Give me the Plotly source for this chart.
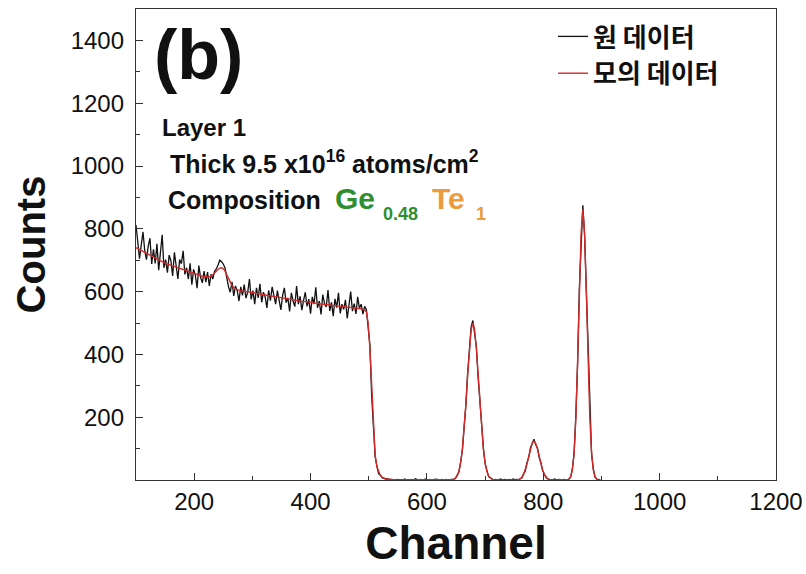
import plotly.graph_objects as go

# Channel grid (every 3rd channel from 100 to 898)
channels = list(range(100, 899, 3))

raw_counts = [
    812, 760, 705, 748, 790, 731, 702, 745, 770, 688,
    735, 690, 752, 668, 718, 781, 676, 702, 660, 716,
    698, 650, 725, 671, 640, 702, 689, 730, 655, 676,
    640, 690, 622, 671, 652, 611, 683, 645, 628, 665,
    630, 662, 618, 655, 640, 665, 672, 685, 700, 695,
    688, 675, 640, 615, 598, 631, 586, 618, 603, 570,
    615, 588, 622, 579, 598, 640, 575, 603, 560, 612,
    580, 625, 566, 598, 583, 548, 604, 571, 615, 590,
    560, 603, 574, 542, 588, 612, 565, 580, 537, 596,
    570, 552, 618, 560, 585, 541, 572, 598, 553, 576,
    530, 583, 560, 614, 548, 570, 527, 590, 562, 551,
    605, 538, 566, 522, 577, 549, 596, 531, 560, 543,
    574, 515, 556, 600, 538, 562, 529, 583, 547, 560,
    528, 553,
    542, 480, 430, 270, 170, 75, 45, 20, 16, 7,
    5, 3, 4, 1, 2, 0, 1, 0, 2, 0,
    1, 0, 3, 0, 1, 0, 2, 0, 4, 1,
    0, 2, 0, 1, 3, 0, 2, 0, 1, 0,
    3, 1, 0, 2, 0, 1, 2, 0, 1, 0,
    3, 5, 15, 25, 58, 95, 168, 238, 340, 410,
    488, 508, 470, 425, 328, 250, 158, 103, 52, 30,
    11, 7, 3, 0, 2, 0, 1, 3, 0, 2,
    1, 0, 2, 0, 3, 1, 2, 0, 4, 6,
    19, 28, 55, 72, 103, 114, 130, 112, 102, 71,
    54, 29, 18, 7, 4, 2, 0, 1, 3, 0,
    2, 1, 0, 2, 1, 0, 3, 9, 35, 84,
    205, 370, 610, 775, 875, 780, 605, 370, 205, 84,
    35, 9, 3, 1, 0,
]

# Simulated (fitted) counts
sim_counts = [
    740, 737, 733, 730, 727, 723, 720, 717, 714, 711,
    709, 706, 703, 700, 698, 695, 692, 690, 688, 685,
    683, 681, 679, 677, 675, 673, 671, 669, 667, 665,
    663, 661, 659, 657, 655, 654, 652, 651, 649, 648,
    647, 647, 647, 649, 653, 659, 665, 671, 675, 676,
    673, 665, 653, 640, 628, 619, 613, 609, 606, 604,
    603, 602, 601, 600, 599, 598, 597, 596, 595, 594,
    593, 592, 591, 590, 589, 588, 587, 586, 585, 584,
    583, 582, 581, 580, 579, 578, 577, 576, 575, 575,
    574, 573, 572, 571, 570, 569, 568, 568, 567, 566,
    565, 564, 564, 563, 562, 561, 561, 560, 559, 558,
    558, 557, 556, 556, 555, 554, 554, 553, 552, 552,
    551, 550, 550, 549, 548, 548, 547, 546, 546, 545,
    544, 542,
    535, 500, 420, 290, 160, 80, 42, 24, 14, 9,
    6, 4, 3, 2, 1, 1, 0, 0, 0, 0,
    0, 0, 0, 0, 0, 0, 0, 0, 0, 0,
    0, 0, 0, 0, 0, 0, 0, 0, 0, 0,
    0, 0, 0, 0, 0, 0, 0, 0, 0, 1,
    2, 6, 13, 28, 55, 99, 162, 243, 334, 418,
    478, 500, 478, 418, 334, 243, 162, 99, 55, 28,
    13, 6, 2, 1, 0, 0, 0, 0, 0, 0,
    0, 0, 0, 0, 0, 0, 0, 1, 3, 8,
    17, 31, 51, 75, 99, 117, 124, 117, 99, 75,
    51, 31, 17, 8, 3, 1, 0, 0, 0, 0,
    0, 0, 0, 0, 0, 0, 2, 10, 32, 87,
    198, 377, 597, 786, 862, 786, 597, 377, 198, 87,
    32, 10, 2, 0, 0,
]

series_names = ["원 데이터", "모의 데이터"]
x_tickvals = [200, 400, 600, 800, 1000, 1200]
y_tickvals = [200, 400, 600, 800, 1000, 1200, 1400]

FONT = "Liberation Sans, Arial, sans-serif"
KFONT = "Noto Sans CJK KR, sans-serif"

fig = go.Figure()
fig.add_trace(go.Scatter(x=channels, y=raw_counts, mode="lines", name="<b>" + series_names[0] + "</b>",
                         line=dict(color="#111111", width=1.3)))
fig.add_trace(go.Scatter(x=channels, y=sim_counts, mode="lines", name="<b>" + series_names[1] + "</b>",
                         line=dict(color="#d42a2a", width=1.4)))

W, H = 806, 574
L, R, T, B = 136, 30, 9, 94
pw, ph = W - L - R, H - T - B

def px(xp):
    return (xp - L) / pw

def py(yp):
    return (H - B - yp) / ph

axis_common = dict(showline=True, linecolor="#333333", linewidth=1.3, mirror=True,
                   showgrid=False, zeroline=False, ticks="inside", ticklen=7,
                   tickcolor="#333333", tickwidth=1.2, automargin=False,
                   tickfont=dict(family=FONT, size=24, color="#111111"))

fig.update_layout(
    width=W, height=H,
    margin=dict(l=L, r=R, t=T, b=B),
    paper_bgcolor="white", plot_bgcolor="white",
    showlegend=True,
    legend=dict(x=px(553), y=py(13), xanchor="left", yanchor="top",
                bgcolor="rgba(0,0,0,0)", font=dict(family=KFONT, size=26, color="#111111"),
                tracegroupgap=0, itemwidth=30),
    xaxis=dict(range=[100, 1200], tickvals=x_tickvals,
               minor=dict(tick0=0, dtick=100, ticks="inside", ticklen=4, tickcolor="#333333"),
               title=dict(text="<b>Channel</b>", font=dict(family=FONT, size=46, color="#111111"),
                          standoff=12),
               **axis_common),
    yaxis=dict(range=[0, 1500], tickvals=y_tickvals,
               minor=dict(tick0=0, dtick=100, ticks="inside", ticklen=4, tickcolor="#333333"),
               title=dict(text="<b>Counts</b>", font=dict(family=FONT, size=40, color="#111111"),
                          standoff=12),
               ticklabelstandoff=6,
               **axis_common),
)

ann = []
ann.append(dict(text="<b>(b)</b>", x=px(152), y=py(55), xanchor="left", yanchor="middle",
                font=dict(family=FONT, size=70, color="#111111")))
ann.append(dict(text="<b>Layer 1</b>", x=px(160), y=py(127), xanchor="left", yanchor="middle",
                font=dict(family=FONT, size=24, color="#111111")))
ann.append(dict(text="<b>Thick 9.5 x10<sup>16</sup> atoms/cm<sup>2</sup></b>", x=px(168), y=py(162),
                xanchor="left", yanchor="middle",
                font=dict(family=FONT, size=25, color="#111111")))
ann.append(dict(text="<b>Composition</b>", x=px(166), y=py(200), xanchor="left", yanchor="middle",
                font=dict(family=FONT, size=25, color="#111111")))
ann.append(dict(text="<b>Ge</b>", x=px(333), y=py(198), xanchor="left", yanchor="middle",
                font=dict(family=FONT, size=30, color="#2f8f2f")))
ann.append(dict(text="<b>0.48</b>", x=px(381), y=py(214), xanchor="left", yanchor="middle",
                font=dict(family=FONT, size=18, color="#2f8f2f")))
ann.append(dict(text="<b>Te</b>", x=px(430), y=py(198), xanchor="left", yanchor="middle",
                font=dict(family=FONT, size=30, color="#eb9a3c")))
ann.append(dict(text="<b>1</b>", x=px(474), y=py(214), xanchor="left", yanchor="middle",
                font=dict(family=FONT, size=18, color="#eb9a3c")))
for a in ann:
    a.update(xref="paper", yref="paper", showarrow=False)
fig.update_layout(annotations=ann)

fig.write_html("out.html", config={"displayModeBar": False},
               post_script="document.body.style.margin='0';")
